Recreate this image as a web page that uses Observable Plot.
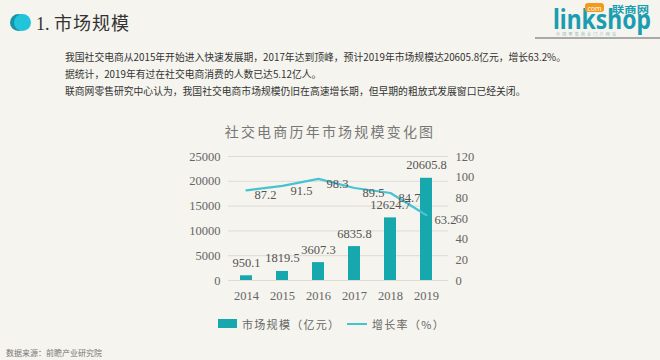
<!DOCTYPE html>
<html>
<head>
<meta charset="utf-8">
<script src="https://cdn.jsdelivr.net/npm/d3@7"></script>
<script src="https://cdn.jsdelivr.net/npm/@observablehq/plot@0.6"></script>
<style>
  html, body { margin: 0; padding: 0; background: #f5f4ee; }
  #wrap { position: relative; width: 660px; height: 360px; overflow: hidden; background: #f5f4ee; font-family: "Noto Sans CJK SC", sans-serif; }
  .abs { position: absolute; white-space: nowrap; }
  #chart { position: absolute; left: 0; top: 0; }
</style>
</head>
<body>
<div id="wrap">
  <div class="abs" style="left:10px;top:14px;width:17px;height:17px;border-radius:50%;background:#1794a6;"></div>
  <div class="abs" style="left:14px;top:14px;width:17px;height:17px;border-radius:50%;background:#22c4dc;"></div>
  <div class="abs" style="left:36px;top:9px;font-size:18px;color:#333;font-family:'Liberation Serif','Noto Sans CJK SC',serif;">1. <span style="font-family:'Noto Sans CJK SC';letter-spacing:1px;">市场规模</span></div>

  <svg class="abs" style="left:535px;top:0;" width="125" height="42" viewBox="0 0 125 42">
    <g transform="translate(18,29) scale(1,1.4)">
      <text x="0" y="0" font-family="Noto Sans" font-weight="bold" font-size="19" fill="#1a9db0" textLength="98" lengthAdjust="spacingAndGlyphs">linkshop</text>
    </g>
    <rect x="50" y="3" width="19" height="9" rx="3" fill="#f39a1e"></rect>
    <text x="59.5" y="10.5" text-anchor="middle" font-family="Noto Sans" font-size="7" fill="#fff">com</text>
    <text x="77" y="12.5" font-family="Noto Sans CJK SC" font-weight="bold" font-size="9.5" fill="#1a9db0" textLength="37" lengthAdjust="spacingAndGlyphs">联商网</text>
    <text x="21" y="35.5" font-family="Noto Sans CJK SC" font-size="4" fill="#9bb" textLength="60">中国零售商业门户网站</text>
    <rect x="0" y="37" width="125" height="2" fill="#a9a9a9"></rect>
  </svg>

  <div class="abs" style="left:65px;top:49px;font-size:9.8px;color:#333;line-height:17px;">
    我国社交电商从2015年开始进入快速发展期，2017年达到顶峰，预计2019年市场规模达20605.8亿元，增长63.2%。<br>
    据统计，2019年有过在社交电商消费的人数已达5.12亿人。<br>
    联商网零售研究中心认为，我国社交电商市场规模仍旧在高速增长期，但早期的粗放式发展窗口已经关闭。
  </div>

  <div id="chart"></div>

  <div class="abs" style="left:0;width:660px;top:121px;text-align:center;font-size:14px;color:#777;letter-spacing:2.2px;">社交电商历年市场规模变化图</div>

  <div class="abs" style="left:218px;top:319px;width:19px;height:9px;background:#17a8ae;"></div>
  <div class="abs" style="left:242px;top:316px;font-size:11px;color:#666;letter-spacing:1.3px;">市场规模（亿元）</div>
  <div class="abs" style="left:347px;top:323px;width:20px;height:2px;background:#45c3d3;"></div>
  <div class="abs" style="left:372px;top:316px;font-size:11px;color:#666;letter-spacing:1.3px;">增长率（%）</div>

  <div class="abs" style="left:6px;top:347px;font-size:8px;color:#777;">数据来源：前瞻产业研究院</div>
</div>
<script>
const years = ["2014", "2015", "2016", "2017", "2018", "2019"];
const marketSize = [950.1, 1819.5, 3607.3, 6835.8, 12624.7, 20605.8];
const growthRate = [87.2, 91.5, 98.3, 89.5, 84.7, 63.2];
const leftTicks = [0, 5000, 10000, 15000, 20000, 25000];
const rightTicks = [0, 20, 40, 60, 80, 100, 120];

const leftMax = 25000, rightMax = 120;
const k = leftMax / rightMax;
const rows = years.map((y, i) => ({year: y, size: marketSize[i], rate: growthRate[i], rateScaled: growthRate[i] * k}));

const chart = Plot.plot({
  width: 660,
  height: 360,
  marginTop: 156,
  marginBottom: 80,
  marginLeft: 228,
  marginRight: 212,
  style: {background: "transparent", fontFamily: "'Liberation Serif', serif", fontSize: "12.5px", color: "#666"},
  x: {type: "band", domain: years, range: [228, 444], paddingInner: 0.68, paddingOuter: 0.34, axis: null},
  y: {domain: [0, leftMax], axis: null},
  marks: [
    Plot.ruleY(leftTicks, {stroke: "#dcdbd5", strokeWidth: 1}),
    Plot.barY(rows, {x: "year", y: "size", fill: "#17a8ae"}),
    Plot.line(rows, {x: "year", y: "rateScaled", stroke: "#45c3d3", strokeWidth: 2.2, curve: "linear"}),
    Plot.text(rows, {x: "year", y: "size", text: d => d.size.toFixed(1), dy: -13, textAnchor: "middle", fill: "#555", fontSize: 12.5}),
    Plot.text(rows, {x: "year", y: "rateScaled", text: d => d.rate.toFixed(1), dx: 8, dy: 5, textAnchor: "start", fill: "#555", fontSize: 12.5}),
    Plot.axisX({domain: years, tickSize: 0, tickPadding: 11, fontSize: 12.5, color: "#666", label: null}),
    Plot.axisY({anchor: "left", ticks: leftTicks, tickSize: 0, tickPadding: 8, tickFormat: d => String(d), fontSize: 12.5, label: null}),
    Plot.axisY({anchor: "right", ticks: rightTicks.map(v => v * k), tickSize: 0, tickPadding: 7, tickFormat: d => String(Math.round(d / k)), fontSize: 12.5, label: null})
  ]
});
document.getElementById("chart").appendChild(chart);
</script>
</body>
</html>
